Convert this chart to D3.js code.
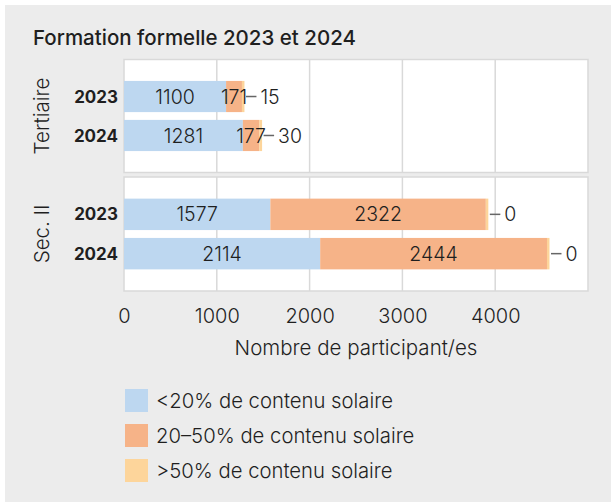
<!DOCTYPE html>
<html>
<head>
<meta charset="utf-8">
<script src="https://cdn.jsdelivr.net/npm/d3@7"></script>
<style>
  body { margin: 0; background: #fff; }
  svg { display: block; font-family: Inter, Roboto, sans-serif; }
</style>
</head>
<body>
<svg id="chart" width="611" height="502"></svg>
<script>
let groups = ["Tertiaire", "Sec. II"]
let years = ["2023", "2024"]
let tertiaireLow = [1100, 1281]
let tertiaireMid = [171, 177]
let tertiaireHigh = [15, 30]
let secLow = [1577, 2114]
let secMid = [2322, 2444]
let secHigh = [0, 0]
let tickValues = [0, 1000, 2000, 3000, 4000]
let seriesNames = ["<20% de contenu solaire", "20\u201350% de contenu solaire", ">50% de contenu solaire"]
let colors = ["#bdd7f0", "#f6b388", "#fdd59b"]

let rows = [
  { group: groups[0], low: tertiaireLow, mid: tertiaireMid, high: tertiaireHigh },
  { group: groups[1], low: secLow, mid: secMid, high: secHigh }
]

let font = 'Inter, Roboto, sans-serif'
let txt = (sel, size, weight) => sel.style('font-family', font).style('font-size', size + 'px').style('font-weight', weight).attr('fill', '#1f1f1f')

let svg = d3.select('#chart')
svg.append('rect').attr('x', 5).attr('y', 5).attr('width', 606).attr('height', 497).attr('fill', '#ececec')

txt(svg.append('text').attr('x', 33).attr('y', 45), 20.5, 500)
  .text('Formation formelle 2023 et 2024')

let x = d3.scaleLinear().domain([0, 5000]).range([124, 588])
let panelY = [[59.5, 172.5], [177, 291]]

rows.forEach((row, gi) => {
  let [top, bottom] = panelY[gi]
  let y = d3.scaleBand().domain(years).range([top, bottom]).paddingInner(0.2).paddingOuter(0.55)
  let g = svg.append('g').attr('class', 'panel')

  g.append('rect').attr('x', x(0)).attr('y', top).attr('width', x(5000) - x(0)).attr('height', bottom - top)
    .attr('fill', '#fff').attr('stroke', '#d9d9d9').attr('stroke-width', 1.5)
  g.selectAll('line.grid').data(tickValues.slice(1)).enter().append('line')
    .attr('class', 'grid')
    .attr('x1', d => x(d)).attr('x2', d => x(d)).attr('y1', top).attr('y2', bottom)
    .attr('stroke', '#d9d9d9').attr('stroke-width', 1.5)

  let bars = years.map((yr, i) => {
    let segs = [row.low[i], row.mid[i], row.high[i]]
    let start = 0
    return { year: yr, segs: segs.map((v, k) => { let s = { v: v, x0: start, k: k }; start += v; return s }), total: start }
  })

  bars.forEach(b => {
    let bg = g.append('g')
    bg.selectAll('rect').data(b.segs).enter().append('rect')
      .attr('x', d => x(d.x0))
      .attr('y', y(b.year))
      .attr('width', d => Math.max(x(d.x0 + d.v) - x(d.x0), d.k == 2 ? 2.5 : 0))
      .attr('height', y.bandwidth())
      .attr('fill', d => colors[d.k])
    // labels inside first two segments
    txt(bg.selectAll('text.inner').data(b.segs.slice(0, 2)).enter().append('text')
      .attr('class', 'inner')
      .attr('x', d => (x(d.x0) + x(d.x0 + d.v)) / 2)
      .attr('y', y(b.year) + y.bandwidth() / 2)
      .attr('dy', '0.36em').attr('text-anchor', 'middle'), 19.5, 300)
      .text(d => d.v)
    // leader line + label for third segment
    let end = Math.max(x(b.total), x(b.segs[2].x0) + 2.5)
    let cy = y(b.year) + y.bandwidth() / 2
    bg.append('line').attr('x1', end + 1.5).attr('x2', end + 12).attr('y1', cy).attr('y2', cy)
      .attr('stroke', '#666').attr('stroke-width', 1.5)
    txt(bg.append('text').attr('x', end + 16).attr('y', cy).attr('dy', '0.36em'), 19.5, 300)
      .text(b.segs[2].v)
    // year label
    txt(g.append('text').attr('x', 118).attr('y', cy).attr('dy', '0.36em').attr('text-anchor', 'end'), 17, 650)
      .text(b.year)
  })

  txt(g.append('text')
    .attr('transform', 'translate(' + [42, (top + bottom) / 2] + ') rotate(-90)')
    .attr('text-anchor', 'middle').attr('dy', '0.36em'), 20.5, 300)
    .text(row.group)
})

// x axis
let axis = svg.append('g').attr('transform', 'translate(0,' + 291 + ')')
  .call(d3.axisBottom(x).tickValues(tickValues).tickSize(0).tickPadding(18).tickFormat(d3.format('d')))
axis.select('.domain').remove()
txt(axis.selectAll('text'), 20, 300)

txt(svg.append('text').attr('x', (x(0) + x(5000)) / 2).attr('y', 355).attr('text-anchor', 'middle'), 20.5, 300)
  .text('Nombre de participant/es')

// legend
let legend = svg.selectAll('g.legend').data(seriesNames).enter().append('g')
  .attr('class', 'legend')
  .attr('transform', (d, i) => 'translate(' + [125, 389 + i * 35] + ')')
legend.append('rect').attr('width', 23).attr('height', 23).attr('fill', (d, i) => colors[i])
txt(legend.append('text').attr('x', 31).attr('y', 11.5).attr('dy', '0.36em'), 20.3, 300)
  .text(d => d)
</script>
</body>
</html>
